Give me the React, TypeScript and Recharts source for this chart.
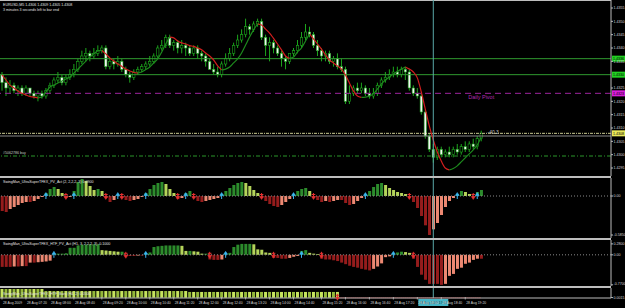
import React from "react";
import { ComposedChart, Bar, Line, XAxis, YAxis, ReferenceLine, ReferenceDot } from "recharts";

// EURUSD M5, prices kept as points above 1.4000
const OPEN = [330, 327, 325, 326, 324, 325, 323, 325, 323, 322,
  323, 322, 324, 326, 328, 329, 327, 329, 330, 332,
  335, 337, 338, 337, 338, 339, 340, 333, 335, 334,
  335, 332, 330, 329, 331, 332, 333, 334, 335, 337,
  340, 341, 344, 341, 342, 340, 341, 340, 338, 340,
  338, 337, 335, 332, 331, 330, 334, 336, 338, 341,
  343, 345, 348, 347, 349, 350, 344, 341, 342, 340,
  338, 336, 335, 338, 339, 341, 344, 346, 345, 341,
  339, 337, 338, 335, 336, 333, 332, 320, 323, 325,
  324, 325, 323, 322, 323, 326, 328, 329, 330, 331,
  330, 332, 331, 325, 323, 322, 316, 307, 302, 299,
  302, 300, 301, 300, 302, 301, 303, 302, 304, 303,
  306];
const HIGH = [331, 329, 328, 327, 326, 326, 326, 325, 324, 324,
  324, 325, 327, 329, 331, 330, 330, 332, 334, 336,
  339, 340, 339, 340, 341, 341, 341, 336, 336, 337,
  336, 333, 331, 332, 333, 334, 335, 337, 338, 341,
  343, 345, 345, 343, 343, 343, 342, 341, 341, 341,
  339, 338, 336, 334, 333, 335, 338, 340, 342, 345,
  347, 351, 349, 350, 351, 351, 345, 344, 343, 341,
  339, 337, 338, 340, 343, 346, 349, 348, 346, 343,
  340, 339, 339, 337, 338, 336, 333, 326, 326, 327,
  327, 326, 325, 325, 327, 329, 331, 332, 333, 333,
  333, 333, 332, 326, 325, 323, 317, 308, 304, 303,
  303, 302, 303, 303, 304, 304, 305, 305, 306, 307,
  309];
const LOW = [324, 322, 323, 323, 322, 322, 322, 322, 321, 320,
  321, 321, 323, 325, 327, 326, 326, 328, 329, 331,
  334, 335, 335, 336, 337, 338, 332, 332, 332, 333,
  331, 329, 327, 328, 330, 331, 332, 333, 334, 336,
  339, 340, 340, 339, 338, 338, 337, 337, 337, 336,
  335, 333, 332, 330, 329, 329, 333, 335, 337, 340,
  342, 344, 345, 346, 348, 343, 337, 335, 338, 337,
  333, 332, 334, 337, 338, 340, 343, 344, 340, 337,
  335, 335, 334, 333, 332, 331, 319, 319, 322, 323,
  323, 322, 321, 321, 322, 325, 327, 328, 329, 329,
  329, 328, 324, 322, 321, 315, 306, 301, 297, 298,
  299, 299, 299, 299, 300, 300, 301, 301, 302, 302,
  305];
const CLOSE = [327, 325, 326, 324, 325, 323, 325, 323, 322, 323,
  322, 324, 326, 328, 329, 327, 329, 330, 332, 335,
  337, 338, 337, 338, 339, 340, 333, 335, 334, 335,
  332, 330, 329, 331, 332, 333, 334, 335, 337, 340,
  341, 344, 341, 342, 340, 341, 340, 338, 340, 338,
  337, 335, 332, 331, 330, 334, 336, 338, 341, 343,
  345, 348, 347, 349, 350, 344, 341, 342, 340, 338,
  336, 335, 338, 339, 341, 344, 346, 345, 341, 339,
  337, 338, 335, 336, 333, 332, 320, 323, 325, 324,
  325, 323, 322, 323, 326, 328, 329, 330, 331, 330,
  332, 331, 325, 323, 322, 316, 307, 302, 299, 302,
  300, 301, 300, 302, 301, 303, 302, 304, 303, 306,
  308];
// smoothed trend line (red while falling, green while rising)
const MA = [329.9, 328, 326.1, 325, 323.9, 323, 322.4, 321.8, 321.6, 321.3,
  321.6, 323.5, 325.4, 326.1, 326.9, 327.6, 328.4, 329.1, 330.6, 332.1,
  333.6, 335.1, 336.6, 337.8, 338.9, 339.1, 337.8, 336.3, 335.1, 334,
  333.1, 332.1, 331.4, 330.8, 330.6, 331, 331.9, 332.9, 334.4, 335.9,
  338.5, 341.5, 344.1, 343.8, 342.6, 341.9, 341.5, 340.9, 340.6, 340,
  339.3, 338.1, 337, 335.5, 333.3, 331.8, 332.1, 332.9, 334.4, 335.9,
  338.1, 341.1, 344.1, 346.8, 349, 348.6, 347.1, 345.6, 343.6, 341.5,
  339.3, 337, 336.1, 336.6, 338.5, 340, 342.6, 345.3, 343.4, 341.5,
  339.6, 337.4, 335.5, 334.4, 333.3, 332.1, 329.9, 326.9, 323.9, 322,
  321.5, 321.6, 322, 322.8, 324.6, 326.5, 328, 329.1, 330.3, 331.2,
  332.1, 332.9, 332.1, 331, 328.8, 323.5, 317.1, 310.8, 305.5, 301,
  297.6, 295, 294.3, 294.8, 295.8, 297.3, 298.8, 300.3, 301.8, 303.6,
  306.6];
const HIST1 = [-0.225, -0.24, -0.195, -0.165, -0.135, -0.105, -0.09, -0.09, -0.075, -0.045,
  -0.015, 0.045, 0.105, 0.135, 0.105, 0.045, -0.03, -0.015, 0.075, 0.21,
  0.255, 0.225, 0.15, 0.09, 0.105, 0.075, -0.03, -0.09, -0.06, 0.015,
  -0.03, -0.06, -0.075, -0.06, -0.045, -0.015, 0.045, 0.105, 0.165, 0.195,
  0.21, 0.18, 0.105, 0.045, -0.045, -0.03, 0.045, 0.075, -0.03, -0.075,
  -0.09, -0.075, -0.06, -0.045, -0.03, 0.03, 0.075, 0.12, 0.165, 0.195,
  0.21, 0.195, 0.15, 0.09, 0.045, -0.03, -0.075, -0.12, -0.15, -0.165,
  -0.135, -0.09, -0.045, 0.03, 0.075, 0.105, 0.12, 0.075, -0.03, -0.06,
  -0.09, -0.075, -0.09, -0.075, -0.06, -0.06, -0.105, -0.135, -0.12, -0.075,
  -0.03, 0.03, 0.075, 0.135, 0.18, 0.195, 0.165, 0.12, 0.09, 0.06,
  0.045, 0.03, -0.03, -0.09, -0.18, -0.3, -0.44, -0.585, -0.5, -0.405,
  -0.285, -0.165, -0.075, -0.03, 0.03, 0.075, 0.06, 0.03, -0.015, 0.06,
  0.09];
const HIST2 = [-0.31, -0.31, -0.31, -0.3, -0.3, -0.29, -0.29, -0.2, -0.2, -0.19,
  -0.18, -0.17, -0.15, 0.03, 0.03, 0.03, 0.04, 0.18, 0.18, 0.24,
  0.26, 0.26, 0.27, 0.27, 0.27, 0.12, 0.11, 0.1, 0.09, 0.08,
  0.08, -0.03, -0.03, -0.03, -0.02, -0.02, 0.04, 0.06, 0.2, 0.22,
  0.23, 0.24, 0.24, 0.24, 0.24, 0.23, 0.1, 0.1, 0.09, 0.08,
  0.03, 0.03, -0.12, -0.13, -0.13, -0.12, 0.03, 0.05, 0.2, 0.26,
  0.28, 0.28, 0.28, 0.27, 0.14, 0.13, 0.06, 0.05, -0.08, -0.08,
  -0.1, -0.1, -0.08, -0.05, -0.03, 0.1, 0.12, 0.05, 0.03, 0.02,
  -0.1, -0.12, -0.12, -0.14, -0.16, -0.2, -0.24, -0.28, -0.31, -0.33,
  -0.36, -0.38, -0.4, -0.36, -0.3, -0.22, -0.06, -0.04, 0.04, 0.06,
  0.08, 0.07, 0.05, -0.1, -0.31, -0.51, -0.64, -0.745, -0.745, -0.745,
  -0.77, -0.745, -0.54, -0.49, -0.36, -0.33, -0.23, -0.2, -0.13, -0.1,
  -0.1];
const HIST3 = [0.0754, 0.0754, 0.0754, 0.0754, 0.0754, 0.0754, 0.0754, 0.0754, 0.0754, 0.0754,
  0.0754, 0.058, 0.058, 0.058, 0.058, 0.058, 0.058, 0.058, 0.058, 0.058,
  0.058, 0.058, 0.058, 0.058, 0.058, 0.058, 0.058, 0.058, 0.058, 0.058,
  0.058, 0.058, 0.058, 0.058, 0.058, 0.058, 0.058, 0.058, 0.058, 0.058,
  0.058, 0.058, 0.058, 0.058, 0.058, 0.058, 0.058, 0.05, 0.05, 0.05,
  0.05, 0.05, 0.05, 0.05, 0.05, 0.05, 0.05, 0.05, 0.05, 0.05,
  0.05, 0.05, 0.05, 0.05, 0.05, 0.05, 0.05, 0.05, 0.05, 0.05,
  0.05, 0.05, 0.05, 0.05, 0.05, 0.05, 0.05, 0.05, 0.05, 0.05,
  0.05, 0.05, 0.05, 0.05, 0.05];

const SLOTS = 153; // bar slots across the window, the rest is the right shift
const TIME_TICK_BARS = [0, 6, 12, 18, 25, 31, 37, 43, 49, 55, 61, 67, 73, 80, 86, 92, 98, 104, 110, 116];
const TIME_LABELS = ["28 Aug 2009", "28 Aug 07:20", "28 Aug 08:00", "28 Aug 08:40", "28 Aug 09:20",
  "28 Aug 10:00", "28 Aug 10:40", "28 Aug 11:20", "28 Aug 12:00", "28 Aug 12:40", "28 Aug 13:20",
  "28 Aug 14:00", "28 Aug 14:40", "28 Aug 15:20", "28 Aug 16:00", "28 Aug 16:40", "28 Aug 17:20",
  "28 Aug 18:00", "28 Aug 18:40", "28 Aug 19:20"];
const PRICE_TICKS = [295, 300, 305, 310, 315, 320, 325, 335, 340, 345, 350, 355];
const LEVEL_HI = 336;
const LEVEL_LO = 330;
const PIVOT = 323;
const BID = 308;
const ASK_LINE = 307;
const ORDER = 299.5;
const CURSOR_BAR = 108;
const CURSOR_TIME = "28 Aug 2009 17:50";
const SPREAD_TEXT = "-40.3";

const W = 625;
const AXIS_W = 14;
const FONT = "Liberation Sans, Arial, sans-serif";
const GRID = "#bdbdbd";
const TXT = "#d6d6d6";
const WICK = "#1ca61c";
const CURSOR = "#5aa9a9";
const POS_UP = "#2c8c2c";
const POS_DN = "#b4d45a";
const NEG_DN = "#951c1c";
const NEG_UP = "#ec8872";
const NO_MARGIN = { top: 0, right: 0, bottom: 0, left: 0 };
const SMALL = 3.6;

const fmtPrice = (v: number) => (1.4 + v / 10000).toFixed(4);
const fmtInd = (v: number) => (v === 0 ? "0.00" : v.toFixed(4));

function histColor(arr: number[], i: number) {
  const v = arr[i];
  const p = i > 0 ? arr[i - 1] : v;
  if (v >= 0) return v >= p ? POS_UP : POS_DN;
  return v <= p ? NEG_DN : NEG_UP;
}

function histCross(arr: number[], i: number) {
  if (i === 0) return null;
  const v = arr[i];
  const p = arr[i - 1];
  if (v > 0 && p <= 0) return "up";
  if (v < 0 && p >= 0) return "down";
  return null;
}

const n = CLOSE.length;
const rows = Array.from({ length: SLOTS }, (_, i) => {
  if (i >= n) return { i };
  const falling = (i > 0 && MA[i] < MA[i - 1]) || (i < n - 1 && MA[i + 1] < MA[i]);
  const rising = (i > 0 && MA[i] > MA[i - 1]) || (i < n - 1 && MA[i + 1] > MA[i]);
  return {
    i,
    o: OPEN[i],
    h: HIGH[i],
    l: LOW[i],
    c: CLOSE[i],
    range: [LOW[i], HIGH[i]],
    maDn: falling ? MA[i] : null,
    maUp: rising ? MA[i] : null,
    h1: HIST1[i],
    h1c: histColor(HIST1, i),
    h1x: histCross(HIST1, i),
    h2: HIST2[i],
    h2c: histColor(HIST2, i),
    h2x: histCross(HIST2, i),
    h3: i < HIST3.length ? HIST3[i] : null,
  };
});

function Candle(props: any) {
  const { x, y, width, height, payload } = props;
  if (!payload || payload.h == null) return null;
  const { o, h, l, c } = payload;
  const top = Math.min(y, y + height);
  const span = Math.abs(height);
  const k = h - l === 0 ? 0 : span / (h - l);
  const cx = x + width / 2;
  const yo = top + (h - o) * k;
  const yc = top + (h - c) * k;
  const bear = c < o;
  return (
    <g>
      <line x1={cx} x2={cx} y1={top} y2={top + span} stroke={WICK} strokeWidth={1} />
      <rect
        x={cx - 1.2}
        y={Math.min(yo, yc)}
        width={2.4}
        height={Math.max(0.8, Math.abs(yc - yo))}
        fill={bear ? "#f2f2f2" : "#000"}
        stroke={WICK}
        strokeWidth={0.6}
      />
    </g>
  );
}

const histShape = (colorKey: string) => (props: any) => {
  const { x, y, width, height, payload } = props;
  if (!payload || payload[colorKey] == null) return null;
  return (
    <rect x={x} y={Math.min(y, y + height)} width={width} height={Math.max(0.6, Math.abs(height))} fill={payload[colorKey]} />
  );
};

function UpArrow({ cx, cy }: { cx: number; cy: number }) {
  return (
    <g stroke="#3bb4f0" strokeWidth={1} fill="#3bb4f0">
      <line x1={cx} x2={cx} y1={cy + 3} y2={cy - 1} />
      <path d={`M${cx - 2},${cy - 0.5} L${cx},${cy - 3.5} L${cx + 2},${cy - 0.5} Z`} strokeWidth={0.5} />
    </g>
  );
}

function DownArrow({ cx, cy }: { cx: number; cy: number }) {
  return (
    <g stroke="#e53030" strokeWidth={1} fill="#e53030">
      <line x1={cx} x2={cx} y1={cy - 3} y2={cy + 1} />
      <line x1={cx - 1.8} x2={cx + 1.8} y1={cy - 1.5} y2={cy - 1.5} />
      <path d={`M${cx - 2},${cy + 0.5} L${cx},${cy + 3.5} L${cx + 2},${cy + 0.5} Z`} strokeWidth={0.5} />
    </g>
  );
}

const arrowDot = (crossKey: string) => (props: any) => {
  const { cx, cy, payload, index } = props;
  if (!payload || cy == null || isNaN(cy)) return <g key={`a${index}`} />;
  if (payload[crossKey] === "up") return <g key={`a${index}`}><UpArrow cx={cx} cy={cy} /></g>;
  if (payload[crossKey] === "down") return <g key={`a${index}`}><DownArrow cx={cx} cy={cy} /></g>;
  return <g key={`a${index}`} />;
};

const levelTag = (bg: string, value: number) => (props: any) => {
  const vb = props.viewBox;
  if (!vb) return null;
  const x = vb.x + vb.width;
  return (
    <g>
      <rect x={x + 1} y={vb.y - 3} width={14} height={6} fill={bg} />
      <text x={x + 2} y={vb.y + 1.4} fontSize={SMALL} fontFamily={FONT} fill="#000">{fmtPrice(value)}</text>
    </g>
  );
};

const leftNote = (text: string, color: string) => (props: any) => {
  const vb = props.viewBox;
  if (!vb) return null;
  return <text x={vb.x + 3} y={vb.y - 2.5} fontSize={SMALL} fontFamily={FONT} fill={color}>{text}</text>;
};

const dotNote = (text: string, color: string, size: number, dy: number) => (props: any) => {
  const vb = props.viewBox;
  if (!vb) return null;
  return <text x={vb.x + (vb.width || 0) / 2} y={vb.y + dy} textAnchor="middle" fontSize={size} fontFamily={FONT} fill={color}>{text}</text>;
};

const cursorTag = (props: any) => {
  const vb = props.viewBox;
  if (!vb) return null;
  const by = vb.y + vb.height;
  return (
    <g>
      <rect x={vb.x - 15} y={by + 1} width={30} height={7} fill="#46b6c6" />
      <text x={vb.x} y={by + 6} textAnchor="middle" fontSize={3.3} fontFamily={FONT} fill="#083440">{CURSOR_TIME}</text>
    </g>
  );
};

function TimeTick(props: any) {
  const { x, y, payload } = props;
  const k = TIME_TICK_BARS.indexOf(payload.value);
  if (k < 0) return <g />;
  return (
    <g>
      <line x1={x} x2={x} y1={y - 1} y2={y + 1.5} stroke={GRID} strokeWidth={0.8} />
      <text x={x + 1} y={y + 5.8} fontSize={3.4} fontFamily={FONT} fill={TXT}>{TIME_LABELS[k]}</text>
    </g>
  );
}

const axisTick = { fill: TXT, fontSize: SMALL, fontFamily: FONT };

function PricePanel() {
  return (
    <ComposedChart width={W} height={176} data={rows} margin={NO_MARGIN} barCategoryGap={0}>
      <XAxis dataKey="i" hide />
      <YAxis orientation="right" width={AXIS_W} type="number" domain={[292, 358]} allowDataOverflow
        ticks={PRICE_TICKS} tickFormatter={fmtPrice} tick={axisTick} tickSize={2} tickMargin={0.5}
        axisLine={{ stroke: GRID }} tickLine={{ stroke: GRID }} />
      <ReferenceLine y={LEVEL_HI} stroke="#2f9a2f" strokeWidth={1} label={levelTag("#22d022", LEVEL_HI)} />
      <ReferenceLine y={LEVEL_LO} stroke="#2f9a2f" strokeWidth={1} label={levelTag("#22d022", LEVEL_LO)} />
      <ReferenceLine y={PIVOT} stroke="#9c249c" strokeDasharray="6 4" strokeWidth={1} label={levelTag("#d81ed8", PIVOT)} />
      <ReferenceLine y={ASK_LINE} stroke="#8a8a8a" strokeWidth={1} />
      <ReferenceLine y={BID} stroke="#c8c890" strokeDasharray="3 1 1 1" strokeWidth={1} label={levelTag("#e8e85a", BID)} />
      <ReferenceLine y={ORDER} stroke="#2a962a" strokeDasharray="4 2 1 2" strokeWidth={1} label={leftNote("#5062786 buy", "#c8c8c8")} />
      <Bar dataKey="range" shape={Candle} isAnimationActive={false} />
      <Line dataKey="maDn" type="monotone" stroke="#d21e1e" strokeWidth={1.2} dot={false} activeDot={false} isAnimationActive={false} />
      <Line dataKey="maUp" type="monotone" stroke="#1d8a1d" strokeWidth={1.2} dot={false} activeDot={false} isAnimationActive={false} />
      <ReferenceDot x={120} y={PIVOT} r={0} fill="none" stroke="none" label={dotNote("Daily Pivot", "#b02ab0", 5.5, 6)} />
      <ReferenceDot x={123} y={BID} r={0} fill="none" stroke="none" label={dotNote(SPREAD_TEXT, "#c8c8c8", 5, 0.5)} />
      <ReferenceLine x={CURSOR_BAR} stroke={CURSOR} strokeWidth={1} />
    </ComposedChart>
  );
}

function OscPanel(props: { h: number; domain: [number, number]; ticks: number[]; vk: string; ck: string; xk: string }) {
  const { h, domain, ticks, vk, ck, xk } = props;
  return (
    <ComposedChart width={W} height={h} data={rows} margin={NO_MARGIN} barCategoryGap="18%">
      <XAxis dataKey="i" hide />
      <YAxis orientation="right" width={AXIS_W} type="number" domain={domain} allowDataOverflow
        ticks={ticks} tickFormatter={fmtInd} tick={axisTick} tickSize={2} tickMargin={0.5}
        axisLine={{ stroke: GRID }} tickLine={{ stroke: GRID }} />
      <ReferenceLine y={0} stroke="#8a8a8a" strokeDasharray="1 2" strokeWidth={1} />
      <Bar dataKey={vk} shape={histShape(ck)} isAnimationActive={false} />
      <Line dataKey={(r: any) => (r[xk] ? 0 : null)} stroke="none" dot={arrowDot(xk)} activeDot={false} isAnimationActive={false} />
      <ReferenceLine x={CURSOR_BAR} stroke={CURSOR} strokeWidth={1} />
    </ComposedChart>
  );
}

const barsShape = (props: any) => {
  const { x, y, width, height, payload } = props;
  if (!payload || payload.h3 == null) return null;
  return (
    <rect x={x} y={Math.min(y, y + height)} width={width} height={Math.abs(height)}
      fill={payload.i % 2 === 0 ? "#c6e45e" : "#94b83a"} />
  );
};

function BarsPanel() {
  const off = HIST3.length - 1;
  return (
    <ComposedChart width={W} height={22} data={rows} margin={NO_MARGIN} barCategoryGap="12%">
      <XAxis dataKey="i" interval={0} tick={TimeTick} tickLine={false} tickSize={0} tickMargin={0}
        axisLine={{ stroke: GRID }} height={12} />
      <YAxis orientation="right" width={AXIS_W} type="number" domain={[-0.002, 0.084]} allowDataOverflow
        ticks={[0.0754, 0.0015]} tickFormatter={fmtInd} tick={axisTick} tickSize={2} tickMargin={0.5}
        axisLine={{ stroke: GRID }} tickLine={{ stroke: GRID }} />
      <Bar dataKey="h3" shape={barsShape} isAnimationActive={false} />
      <ReferenceLine segment={[{ x: off, y: 0 }, { x: n - 1, y: 0 }]} stroke="#d22a2a" strokeDasharray="1 1" strokeWidth={1} />
      <ReferenceDot x={off} y={0} r={0} fill="none" stroke="none"
        label={(p: any) => (p.viewBox ? <DownArrow cx={p.viewBox.x} cy={p.viewBox.y - 1} /> : null)} />
      <ReferenceLine x={CURSOR_BAR} stroke={CURSOR} strokeWidth={1} label={cursorTag} />
    </ComposedChart>
  );
}

const abs = (top: number): React.CSSProperties => ({ position: "absolute", left: 0, top });
const sep = (top: number, h = 2): React.CSSProperties => ({ position: "absolute", left: 0, top, width: W - AXIS_W, height: h, background: GRID });

export default function App() {
  return (
    <div style={{ position: "fixed", left: 0, top: 0, width: W, height: 308, background: "#000", overflow: "hidden" }}>
      <div style={sep(0, 1)} />
      <div style={abs(0)}><PricePanel /></div>
      <div style={sep(176)} />
      <div style={abs(178)}>
        <OscPanel h={60} domain={[-0.63, 0.27]} ticks={[0.255, 0, -0.585]} vk="h1" ck="h1c" xk="h1x" />
      </div>
      <div style={sep(238)} />
      <div style={abs(240)}>
        <OscPanel h={46} domain={[-0.8, 0.38]} ticks={[0.28, 0, -0.77]} vk="h2" ck="h2c" xk="h2x" />
      </div>
      <div style={sep(286)} />
      <div style={abs(288)}><BarsPanel /></div>
      <svg width={W} height={308} style={{ position: "absolute", left: 0, top: 0, pointerEvents: "none" }}>
        <g fontFamily={FONT} fontSize={SMALL} fill="#e2e2e2">
          <text x={3} y={5.5}>EURUSD,M5  1.4306 1.4309 1.4305 1.4308</text>
          <text x={3} y={10.5}>3 minutes 3 seconds left to bar end</text>
          <text x={3} y={182.5}>SwingMan_UltraSuperTFEX_PV_Act (2, 2,2,2, 3) 0.0900</text>
          <text x={3} y={244.5}>SwingMan_UltraSuperTFEX_HTF_PV_Act (H1, 3, 2,2,2, 3) -0.1000</text>
          <text x={3} y={294.5}>SwingMan_UltraSuperTFEX_HTF_Bars (H4, 2) 0.0500</text>
        </g>
      </svg>
    </div>
  );
}
